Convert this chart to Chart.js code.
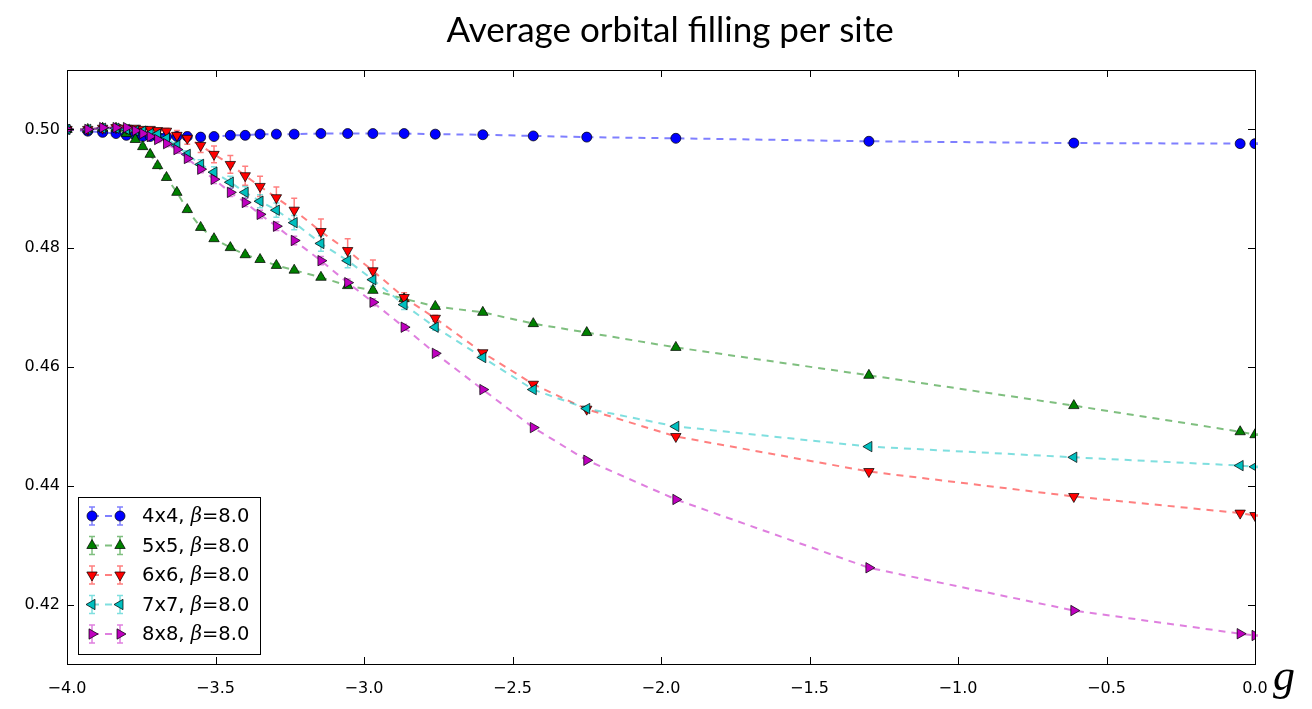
<!DOCTYPE html>
<html>
<head>
<meta charset="utf-8">
<script src="https://cdn.jsdelivr.net/npm/chart.js@4.4.0/dist/chart.umd.min.js"></script>
<style>
html,body{margin:0;padding:0;background:#fff;}
#wrap{width:1312px;height:709px;position:relative;}
</style>
</head>
<body>
<div id="wrap"><canvas id="c" width="1312" height="709"></canvas></div>
<script>
// ---- data ----
const titleText = "Average orbital filling per site";
const xAxisLabel = "g";
const gValues = [-4.00,-3.93,-3.88,-3.835,-3.80,-3.77,-3.745,-3.72,-3.695,-3.665,-3.63,-3.595,-3.55,-3.505,-3.45,-3.40,-3.35,-3.295,-3.235,-3.145,-3.055,-2.97,-2.865,-2.76,-2.60,-2.43,-2.25,-1.95,-1.30,-0.61,-0.05,0.00];
const seriesLabels = ["4x4, ", "5x5, ", "6x6, ", "7x7, ", "8x8, "];
const betaText = "=8.0";
const fill4x4 = [0.5000,0.4997,0.4995,0.4993,0.4990,0.4990,0.4988,0.4988,0.4988,0.4988,0.4988,0.4988,0.4987,0.4988,0.4990,0.4990,0.4992,0.4992,0.4992,0.4993,0.4993,0.4993,0.4993,0.4992,0.4991,0.4989,0.4987,0.4985,0.4980,0.4977,0.4976,0.4976];
const fill5x5 = [0.5000,0.5000,0.5002,0.5002,0.4993,0.4983,0.4971,0.4958,0.4939,0.4919,0.4894,0.4865,0.4835,0.4816,0.4801,0.4789,0.4781,0.4771,0.4763,0.4751,0.4737,0.4729,0.4715,0.4702,0.4692,0.4673,0.4658,0.4633,0.4586,0.4535,0.4491,0.4486];
const fill6x6 = [0.5000,0.5000,0.5002,0.5003,0.5002,0.5002,0.5000,0.5000,0.4998,0.4997,0.4990,0.4985,0.4973,0.4958,0.4941,0.4922,0.4904,0.4885,0.4864,0.4828,0.4796,0.4762,0.4717,0.4682,0.4624,0.4571,0.4529,0.4483,0.4424,0.4382,0.4354,0.4350];
const fill7x7 = [0.5000,0.5000,0.5002,0.5002,0.5000,0.4998,0.4997,0.4993,0.4992,0.4985,0.4973,0.4958,0.4941,0.4928,0.4911,0.4894,0.4879,0.4864,0.4843,0.4808,0.4779,0.4747,0.4705,0.4667,0.4616,0.4562,0.4530,0.4500,0.4466,0.4448,0.4434,0.4432];
const fill8x8 = [0.5000,0.5000,0.5003,0.5003,0.5003,0.4998,0.4993,0.4988,0.4983,0.4976,0.4966,0.4951,0.4933,0.4916,0.4894,0.4877,0.4857,0.4837,0.4813,0.4779,0.4742,0.4709,0.4667,0.4623,0.4562,0.4498,0.4443,0.4377,0.4262,0.4190,0.4151,0.4148];
const err4x4 = [0,0.0001,0.0001,0.0001,0.0001,0.0001,0.0001,0.0001,0.0001,0.0001,0.0001,0.0001,0.0001,0.0001,0.0001,0.0001,0.0001,0.0001,0.0001,0.0001,0.0001,0.0001,0.0001,0.0001,0.0001,0.0001,0.0001,0.0001,0.0001,0.0001,0.0001,0.0001];
const err5x5 = [0,0.0002,0.0002,0.0002,0.0003,0.0003,0.0003,0.0003,0.0003,0.0003,0.0003,0.0003,0.0003,0.0003,0.0003,0.0003,0.0003,0.0003,0.0003,0.0003,0.0003,0.0003,0.0002,0.0002,0.0002,0.0002,0.0002,0.0002,0.0001,0.0001,0.0001,0.0001];
const err6x6 = [0,0.0002,0.0002,0.0002,0.0002,0.0002,0.0003,0.0003,0.0003,0.0005,0.0008,0.0010,0.0012,0.0014,0.0015,0.0016,0.0017,0.0018,0.0020,0.0021,0.0020,0.0018,0.0008,0.0005,0.0003,0.0002,0.0002,0.0002,0.0001,0.0001,0.0001,0.0001];
const err7x7 = [0,0.0002,0.0002,0.0002,0.0002,0.0002,0.0002,0.0003,0.0003,0.0004,0.0005,0.0006,0.0008,0.0009,0.0010,0.0010,0.0011,0.0012,0.0012,0.0013,0.0012,0.0011,0.0008,0.0005,0.0003,0.0002,0.0002,0.0002,0.0001,0.0001,0.0001,0.0001];
const err8x8 = [0,0.0002,0.0002,0.0002,0.0003,0.0003,0.0004,0.0004,0.0005,0.0005,0.0006,0.0006,0.0006,0.0007,0.0007,0.0007,0.0007,0.0007,0.0007,0.0007,0.0006,0.0006,0.0005,0.0004,0.0003,0.0002,0.0002,0.0002,0.0001,0.0001,0.0001,0.0001];
const xTickValues = [-4.0,-3.5,-3.0,-2.5,-2.0,-1.5,-1.0,-0.5,0.0];
const yTickValues = [0.42,0.44,0.46,0.48,0.50];

// ---- styling ----
const allFills = [fill4x4, fill5x5, fill6x6, fill7x7, fill8x8];
const allErrs = [err4x4, err5x5, err6x6, err7x7, err8x8];
const faceColors = ['rgb(0,0,255)','rgb(0,128,0)','rgb(255,0,0)','rgb(0,191,191)','rgb(191,0,191)'];
const lineColors = ['rgba(0,0,255,0.5)','rgba(0,128,0,0.5)','rgba(255,0,0,0.5)','rgba(0,191,191,0.5)','rgba(191,0,191,0.5)'];
const pStyles = ['circle','triangle','triangle','triangle','triangle'];
const pRots = [0,0,180,-90,90];
const pRadii = [5,6,6,6,6];

const datasets = allFills.map((arr, i) => ({
  label: seriesLabels[i] + 'β' + betaText,
  data: gValues.map((g, k) => ({x: g, y: arr[k]})),
  showLine: true,
  borderColor: lineColors[i],
  borderWidth: 2,
  borderDash: [7, 6],
  pointStyle: pStyles[i],
  rotation: pRots[i],
  pointRadius: pRadii[i],
  pointBackgroundColor: faceColors[i],
  pointBorderColor: 'rgba(0,0,0,0.8)',
  pointBorderWidth: 0.9,
  errors: allErrs[i],
  order: 5 - i
}));

const tickFont = {family: 'DejaVu Sans', size: 16};
const fmt = v => {
  const s = (Math.abs(v) < 1e-9 ? 0 : v);
  return (s < 0 ? '\u2212' : '') + Math.abs(s).toFixed(1);
};

const errorBarPlugin = {
  id: 'errbars',
  beforeDatasetsDraw(chart) {
    const ctx = chart.ctx, xs = chart.scales.x, ys = chart.scales.y;
    ctx.save();
    chart.data.datasets.forEach((ds, i) => {
      ctx.strokeStyle = ds.borderColor;
      ctx.lineWidth = 1.5;
      ds.data.forEach((p, k) => {
        const e = ds.errors[k];
        if (!e) return;
        const px = xs.getPixelForValue(p.x);
        const y1 = ys.getPixelForValue(p.y + e), y2 = ys.getPixelForValue(p.y - e);
        ctx.beginPath();
        ctx.moveTo(px, y1); ctx.lineTo(px, y2);
        ctx.moveTo(px - 3, y1); ctx.lineTo(px + 3, y1);
        ctx.moveTo(px - 3, y2); ctx.lineTo(px + 3, y2);
        ctx.stroke();
      });
    });
    ctx.restore();
  }
};

function drawMarker(ctx, i, x, y) {
  Chart.helpers.drawPoint(ctx, {
    pointStyle: pStyles[i], rotation: pRots[i], radius: pRadii[i], borderWidth: 0.9
  }, x, y);
}

const decorPlugin = {
  id: 'decor',
  afterDraw(chart) {
    const ctx = chart.ctx, a = chart.chartArea, xs = chart.scales.x, ys = chart.scales.y;
    ctx.save();
    // frame
    ctx.strokeStyle = '#000';
    ctx.lineWidth = 1;
    ctx.strokeRect(Math.round(a.left) + 0.5, Math.round(a.top) + 0.5, Math.round(a.right - a.left), Math.round(a.bottom - a.top));
    // inward ticks
    ctx.beginPath();
    xTickValues.forEach(v => {
      const px = Math.round(xs.getPixelForValue(v)) + 0.5;
      ctx.moveTo(px, a.bottom); ctx.lineTo(px, a.bottom - 7);
      ctx.moveTo(px, a.top); ctx.lineTo(px, a.top + 7);
    });
    yTickValues.forEach(v => {
      const py = Math.round(ys.getPixelForValue(v)) + 0.5;
      ctx.moveTo(a.left, py); ctx.lineTo(a.left + 7, py);
      ctx.moveTo(a.right, py); ctx.lineTo(a.right - 7, py);
    });
    ctx.stroke();

    // title
    ctx.fillStyle = '#000';
    ctx.font = '35px Lato';
    ctx.textAlign = 'center';
    ctx.textBaseline = 'alphabetic';
    ctx.fillText(titleText, 670, 42);

    // g axis label
    ctx.font = 'italic 44px "Liberation Serif"';
    ctx.textAlign = 'left';
    ctx.fillText(xAxisLabel, 1273, 690);

    // legend
    const bx = 78, by = 497, bw = 182, bh = 157;
    ctx.fillStyle = '#fff';
    ctx.fillRect(bx, by, bw, bh);
    ctx.strokeStyle = '#000';
    ctx.lineWidth = 1;
    ctx.strokeRect(bx + 0.5, by + 0.5, bw, bh);
    const rowY0 = 516, rowDy = 29.5;
    chart.data.datasets.forEach((ds, i) => {
      const y = rowY0 + i * rowDy;
      const m1 = 92, m2 = 120;
      // dashed line
      ctx.strokeStyle = lineColors[i];
      ctx.lineWidth = 2;
      ctx.setLineDash([7, 6]);
      ctx.beginPath(); ctx.moveTo(m1, y); ctx.lineTo(m2, y); ctx.stroke();
      ctx.setLineDash([]);
      // error bars
      ctx.lineWidth = 1.5;
      [m1, m2].forEach(mx => {
        ctx.beginPath();
        ctx.moveTo(mx, y - 9); ctx.lineTo(mx, y + 9);
        ctx.moveTo(mx - 3, y - 9); ctx.lineTo(mx + 3, y - 9);
        ctx.moveTo(mx - 3, y + 9); ctx.lineTo(mx + 3, y + 9);
        ctx.stroke();
      });
      ctx.fillStyle = faceColors[i];
      ctx.strokeStyle = 'rgba(0,0,0,0.8)';
      ctx.lineWidth = 0.9;
      drawMarker(ctx, i, m1, y);
      drawMarker(ctx, i, m2, y);
      // text
      ctx.fillStyle = '#000';
      ctx.textBaseline = 'middle';
      ctx.textAlign = 'left';
      let tx = 142;
      ctx.font = '19.5px "DejaVu Sans"';
      ctx.fillText(seriesLabels[i], tx, y + 1);
      tx += ctx.measureText(seriesLabels[i]).width;
      ctx.font = 'italic 19.5px "DejaVu Serif"';
      ctx.fillText('β', tx, y + 1);
      tx += ctx.measureText('β').width;
      ctx.font = '19.5px "DejaVu Sans"';
      ctx.fillText(betaText, tx, y + 1);
    });
    ctx.restore();
  }
};

new Chart(document.getElementById('c'), {
  type: 'scatter',
  data: { datasets },
  options: {
    responsive: false,
    animation: false,
    devicePixelRatio: 1,
    layout: { padding: { top: 70, right: 57, left: 0, bottom: 0 } },
    plugins: {
      legend: { display: false },
      title: { display: false },
      tooltip: { enabled: false }
    },
    scales: {
      x: {
        type: 'linear', min: -4.0, max: 0.0,
        afterFit: s => { s.height = 45; },
        afterBuildTicks: s => { s.ticks = xTickValues.map(v => ({value: v})); },
        grid: { display: false, drawTicks: false }, border: { display: false },
        ticks: { font: tickFont, color: '#000', padding: 15, maxRotation: 0, autoSkip: false, callback: v => fmt(v) }
      },
      y: {
        type: 'linear', min: 0.41, max: 0.51,
        afterFit: s => { s.width = 67; },
        afterBuildTicks: s => { s.ticks = yTickValues.map(v => ({value: v})); },
        grid: { display: false, drawTicks: false }, border: { display: false },
        ticks: { font: tickFont, color: '#000', padding: 7, autoSkip: false, callback: v => v.toFixed(2) }
      }
    }
  },
  plugins: [errorBarPlugin, decorPlugin]
});
</script>
</body>
</html>
